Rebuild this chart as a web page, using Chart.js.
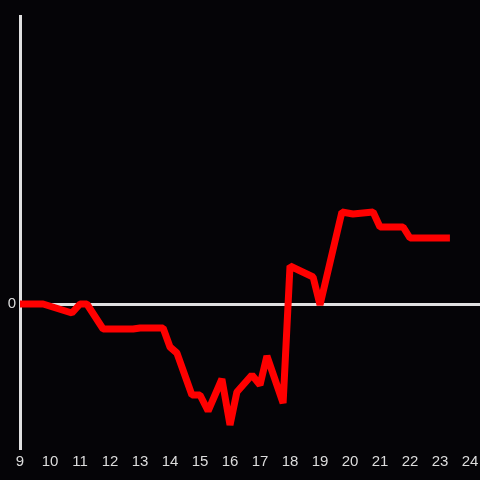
<!DOCTYPE html>
<html>
<head>
<meta charset="utf-8">
<script src="https://cdn.jsdelivr.net/npm/chart.js@4/dist/chart.umd.min.js"></script>
<style>
  html, body { margin: 0; padding: 0; background: #050407; }
  #wrap { width: 480px; height: 480px; }
</style>
</head>
<body>
<div id="wrap"><canvas id="chart"></canvas></div>
<script>
// ── data ────────────────────────────────────────────────────────────────────
const times  = [9, 9.77, 10.73, 11, 11.23, 11.77, 12.77, 13, 13.77, 14, 14.23, 14.73, 15, 15.27, 15.73,
                16, 16.23, 16.73, 17, 17.23, 17.77, 18, 18.77, 19, 19.73, 20.1, 20.77, 21, 21.77, 22, 23.33];
const values = [0, 0, -0.9, 0, 0, -2.5, -2.5, -2.4, -2.4, -4.3, -4.9, -9.1, -9.1, -10.7, -7.5,
                -12.1, -8.8, -7.1, -8.1, -5.2, -9.9, 3.8, 2.7, -0.1, 9.2, 9.0, 9.2, 7.7, 7.7, 6.6, 6.6];
const xTicks = [9, 10, 11, 12, 13, 14, 15, 16, 17, 18, 19, 20, 21, 22, 23, 24];
const yTicks = [0];

const points = times.map((t, i) => ({ x: t, y: values[i] }));

const bgPlugin = {
  id: 'bg',
  beforeDraw(chart) {
    const c = chart.ctx;
    c.save();
    c.fillStyle = '#050407';
    c.fillRect(0, 0, chart.width, chart.height);
    c.restore();
  }
};

new Chart(document.getElementById('chart').getContext('2d'), {
  type: 'line',
  data: {
    datasets: [{
      data: points,
      borderColor: '#ff0000',
      borderWidth: 7,
      pointRadius: 0,
      tension: 0,
      fill: false,
      borderJoinStyle: 'bevel',
      borderCapStyle: 'butt'
    }]
  },
  options: {
    responsive: true, maintainAspectRatio: false, animation: false,
    layout: { padding: { top: 16, right: 0, left: 0, bottom: 0 } },
    plugins: { legend: { display: false }, tooltip: { enabled: false } },
    scales: {
      x: {
        type: 'linear', min: 9, max: 24.333,
        afterBuildTicks: s => { s.ticks = xTicks.map(v => ({ value: v })); },
        afterFit: s => { s.height = 32; s.paddingRight = 0; s.paddingLeft = 0; },
        grid: { display: false, drawTicks: false },
        border: { display: false },
        ticks: { color: '#dcdcdc', padding: 5, font: { family: "'Liberation Sans'", size: 15 } }
      },
      y: {
        type: 'linear', min: -14.4, max: 28.8,
        afterBuildTicks: s => { s.ticks = yTicks.map(v => ({ value: v })); },
        afterFit: s => { s.width = 20; },
        grid: { drawTicks: false, color: c => c.tick && c.tick.value === 0 ? '#e0e0e0' : 'transparent', lineWidth: 3 },
        border: { display: true, color: '#e0e0e0', width: 3 },
        ticks: { color: '#dcdcdc', padding: 4, font: { family: "'Liberation Sans'", size: 15 } }
      }
    }
  },
  plugins: [bgPlugin]
});
</script>
</body>
</html>
